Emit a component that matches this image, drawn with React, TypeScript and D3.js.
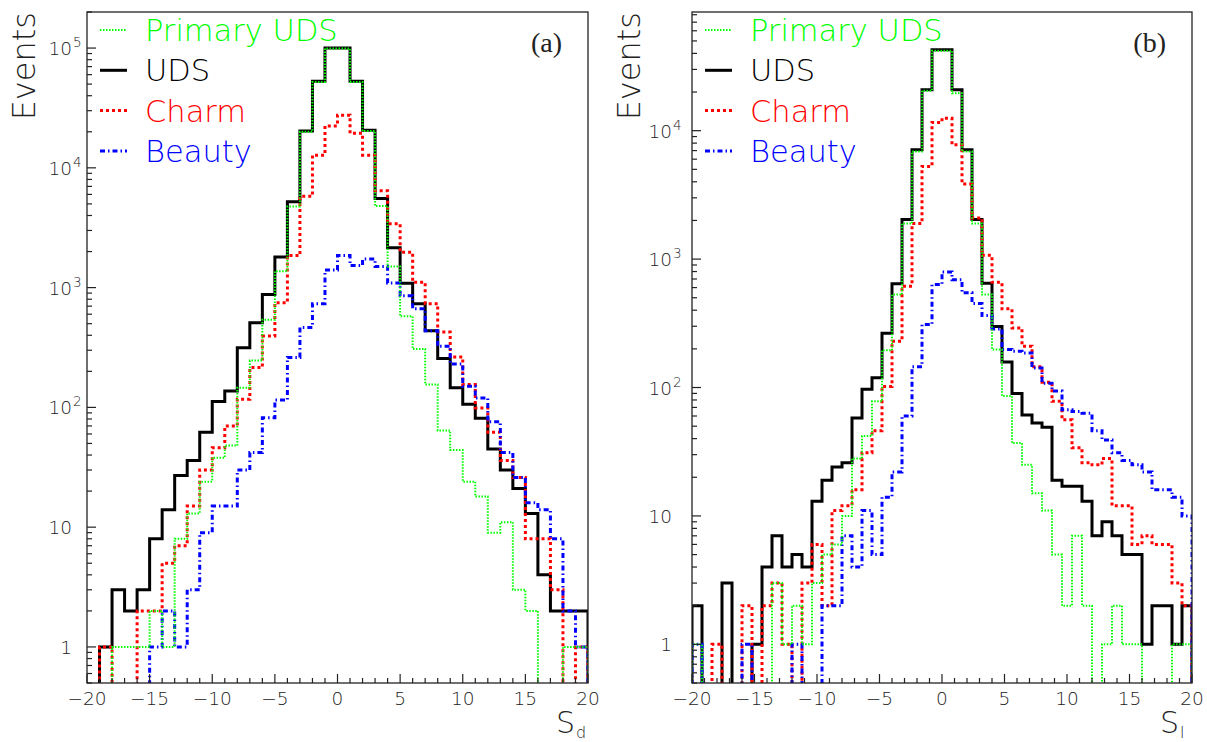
import React from 'react';
import * as d3 from 'd3';

// ---------------- DATA ----------------
// Panel (a): S_d, 40 bins of width 1 from -20 to 20
const sdBinStart = -20;
const sdBinWidth = 1;
const sdPrimaryUDS = [0, 0, 1, 1, 1, 2, 1, 8, 13, 24, 38, 48, 146, 246, 540, 1370, 4750, 20000, 52000, 99000,
  99000, 52000, 20300, 4800, 1500, 576, 307, 155, 64, 44, 24, 18, 9, 11, 3, 2, 0, 0, 1, 1];
const sdUDS = [0, 1, 3, 2, 3, 8, 14, 27, 36, 62, 112, 137, 314, 508, 874, 1800, 5200, 20300, 52900, 100000,
  100000, 52900, 20600, 5540, 2150, 1090, 732, 436, 256, 146, 106, 81, 45, 30, 21, 13, 4, 2, 2, 2];
const sdCharm = [0, 1, 0, 0, 2, 2, 5, 7, 15, 30, 46, 70, 117, 215, 394, 748, 1850, 5780, 12760, 22400,
  27500, 19400, 12760, 6450, 3420, 1975, 1110, 735, 426, 263, 155, 99, 62, 36, 26, 8, 8, 3, 0, 1];
const sdBeauty = [0, 0, 0, 0, 0, 1, 2, 1, 3, 9, 15, 15, 30, 42, 82, 115, 261, 465, 735, 1400,
  1850, 1530, 1730, 1500, 1093, 857, 666, 436, 324, 230, 150, 120, 76, 42, 26, 16, 14, 8, 2, 1];

// Panel (b): S_l, 50 bins of width 0.8 from -20 to 20
const slBinStart = -20;
const slBinWidth = 0.8;
const slPrimaryUDS = [1, 0, 0, 0, 0, 0, 0, 0, 3, 1, 2, 1, 3, 5, 6, 10, 28, 42, 78, 195,
  529, 1890, 6900, 20500, 42000, 42000, 19600, 6900, 1890, 529, 198, 86, 37, 25, 15, 11, 5, 2, 7, 2,
  0, 1, 2, 1, 1, 0, 0, 0, 1, 1];
const slUDS = [2, 0, 0, 3, 0, 0, 1, 4, 7, 4, 5, 4, 13, 19, 24, 26, 58, 97, 119, 265,
  643, 2030, 7110, 20800, 42700, 42700, 20800, 7110, 2030, 650, 298, 158, 90, 61, 53, 49, 19, 17, 17, 13,
  7, 9, 7, 5, 5, 1, 2, 2, 1, 2];
const slCharm = [0, 0, 1, 0, 0, 2, 0, 2, 3, 1, 0, 3, 6, 2, 11, 12, 16, 31, 46, 102,
  229, 614, 1890, 5270, 11600, 12500, 7780, 3850, 2090, 1070, 660, 410, 291, 210, 145, 110, 78, 56, 34, 26,
  25, 28, 12, 12, 6, 7, 6, 6, 3, 2];
const slBeauty = [1, 0, 0, 0, 0, 1, 0, 0, 0, 0, 1, 0, 0, 2, 2, 7, 4, 11, 5, 14,
  22, 60, 145, 309, 633, 795, 692, 546, 451, 363, 286, 198, 192, 186, 142, 108, 94, 67, 65, 63,
  46, 39, 31, 27, 25, 22, 16, 16, 14, 10];

const xTickValues = [-20, -15, -10, -5, 0, 5, 10, 15, 20];
const legendNames = ['Primary UDS', 'UDS', 'Charm', 'Beauty'];

// ---------------- STYLE ----------------
const FONT = "'DejaVu Sans', 'Noto Sans', sans-serif";
const GREEN = '#00ff00';
const styles = [
  { color: GREEN, width: 2, dash: '1.5 1.5' },
  { color: '#000000', width: 3, dash: '' },
  { color: '#ff0000', width: 3, dash: '3 3' },
  { color: '#0000ff', width: 3, dash: '5 3 1.5 3' },
];
const textColors = [GREEN, '#000000', '#ff0000', '#0000ff'];

const TOP = 12;
const BOTTOM = 683;

type PanelProps = {
  x0: number;
  x1: number;
  yMax: number;
  binStart: number;
  binWidth: number;
  series: number[][]; // order: primary, uds, charm, beauty
  maxDecade: number;
  labelGap: number;
  tag: string;
  xSub: string;
  id: string;
};

function Panel(p: PanelProps) {
  const x = d3.scaleLinear().domain([-20, 20]).range([p.x0, p.x1]);
  const yMin = 0.5;
  const y = d3.scaleLog().domain([yMin, p.yMax]).range([BOTTOM, TOP]);

  const pathFor = (vals: number[]) => {
    const pts: [number, number][] = [];
    pts.push([x(p.binStart), BOTTOM + 2]);
    vals.forEach((v, i) => {
      const lo = p.binStart + i * p.binWidth;
      const hi = lo + p.binWidth;
      const yy = v > 0 ? y(v) : BOTTOM + 2;
      pts.push([x(lo), yy]);
      pts.push([x(hi), yy]);
    });
    pts.push([x(p.binStart + vals.length * p.binWidth), BOTTOM + 2]);
    return d3.line()(pts) || '';
  };

  // y ticks
  const yTicks: { v: number; major: boolean }[] = [];
  for (let d = -1; d <= 6; d++) {
    for (let m = 1; m <= 9; m++) {
      const v = m * Math.pow(10, d);
      if (v >= yMin && v <= p.yMax) yTicks.push({ v, major: m === 1 });
    }
  }
  const xTicks = d3.range(-20, 21, 1);
  const drawOrder = [1, 2, 3, 0];
  const baseX = p.x0 - p.labelGap;
  const legX0 = p.x0 + 13;
  const legX1 = p.x0 + 40;
  const legText = p.x0 + 58;

  return (
    <g>
      <defs>
        <clipPath id={p.id}>
          <rect x={p.x0} y={TOP} width={p.x1 - p.x0} height={BOTTOM - TOP} />
        </clipPath>
      </defs>
      <g clipPath={`url(#${p.id})`} fill="none">
        {drawOrder.map((si) => (
          <path
            key={si}
            d={pathFor(p.series[si])}
            stroke={styles[si].color}
            strokeWidth={styles[si].width}
            strokeDasharray={styles[si].dash}
            strokeLinejoin="miter"
          />
        ))}
      </g>
      {/* frame */}
      <rect x={p.x0} y={TOP} width={p.x1 - p.x0} height={BOTTOM - TOP} fill="none" stroke="#222" strokeWidth={1.3} />
      {/* y ticks */}
      {yTicks.map((t, i) => (
        <line key={'yt' + i} x1={p.x0} x2={p.x0 + (t.major ? 9 : 5)} y1={y(t.v)} y2={y(t.v)} stroke="#222" strokeWidth={1.2} />
      ))}
      {/* x ticks */}
      {xTicks.map((t) => (
        <line key={'xt' + t} x1={x(t)} x2={x(t)} y1={BOTTOM} y2={BOTTOM - (t % 5 === 0 ? 9 : 5)} stroke="#222" strokeWidth={1.2} />
      ))}
      {/* y tick labels */}
      {d3.range(0, p.maxDecade + 1).map((d) => {
        const yy = y(Math.pow(10, d)) + 7;
        if (d === 0) return <text key={'yl' + d} x={baseX} y={yy} textAnchor="end" fontSize={18.5} fontFamily={FONT} fontWeight={200} fill="#222">1</text>;
        if (d === 1) return <text key={'yl' + d} x={baseX} y={yy} textAnchor="end" fontSize={18.5} fontFamily={FONT} fontWeight={200} fill="#222">10</text>;
        return (
          <g key={'yl' + d}>
            <text x={baseX} y={yy} textAnchor="end" fontSize={18.5} fontFamily={FONT} fontWeight={200} fill="#222">10</text>
            <text x={baseX + 1} y={yy - 8} textAnchor="start" fontSize={13.5} fontFamily={FONT} fontWeight={200} fill="#222">{d}</text>
          </g>
        );
      })}
      {/* x tick labels */}
      {xTickValues.map((v) => (
        <text key={'xl' + v} x={x(v)} y={705} textAnchor="middle" fontSize={18.5} fontFamily={FONT} fontWeight={200} fill="#222">
          {v < 0 ? '\u2212' + Math.abs(v) : String(v)}
        </text>
      ))}
      {/* axis titles */}
      <text transform={`translate(${p.x0 - 52},${TOP}) rotate(-90)`} textAnchor="end" fontSize={32} fontFamily={FONT} fontWeight={200} fill="#222">Events</text>
      <text x={p.x1 - 32} y={733} fontSize={30} fontFamily={FONT} fontWeight={200} fill="#222">S</text>
      <text x={p.x1 - 12} y={738} fontSize={16} fontFamily={FONT} fontWeight={200} fill="#222">{p.xSub}</text>
      {/* panel tag */}
      <text x={p.x1 - 26} y={52} textAnchor="end" fontSize={28} fontFamily="'Liberation Serif', 'DejaVu Serif', serif" fill="#222">{p.tag}</text>
      {/* legend */}
      {legendNames.map((name, i) => {
        const ly = 30 + i * 40.3;
        return (
          <g key={'lg' + i}>
            <line x1={legX0} x2={legX1} y1={ly} y2={ly} stroke={styles[i].color} strokeWidth={styles[i].width} strokeDasharray={styles[i].dash} />
            <text x={legText} y={ly + 11} fontSize={30.5} fontFamily={FONT} fontWeight={200} fill={textColors[i]}>{name}</text>
          </g>
        );
      })}
    </g>
  );
}

export default function App() {
  return (
    <svg width={1207} height={742} style={{ position: 'absolute', left: 0, top: 0, background: '#fff' }}>
      <rect x={0} y={0} width={1207} height={742} fill="#fff" />
      <Panel
        id="clipA"
        x0={87}
        x1={588}
        yMax={2e5}
        binStart={sdBinStart}
        binWidth={sdBinWidth}
        series={[sdPrimaryUDS, sdUDS, sdCharm, sdBeauty]}
        maxDecade={5}
        labelGap={15}
        tag="(a)"
        xSub="d"
      />
      <Panel
        id="clipB"
        x0={692}
        x1={1192}
        yMax={8.4e4}
        binStart={slBinStart}
        binWidth={slBinWidth}
        series={[slPrimaryUDS, slUDS, slCharm, slBeauty]}
        maxDecade={4}
        labelGap={20}
        tag="(b)"
        xSub="l"
      />
    </svg>
  );
}
